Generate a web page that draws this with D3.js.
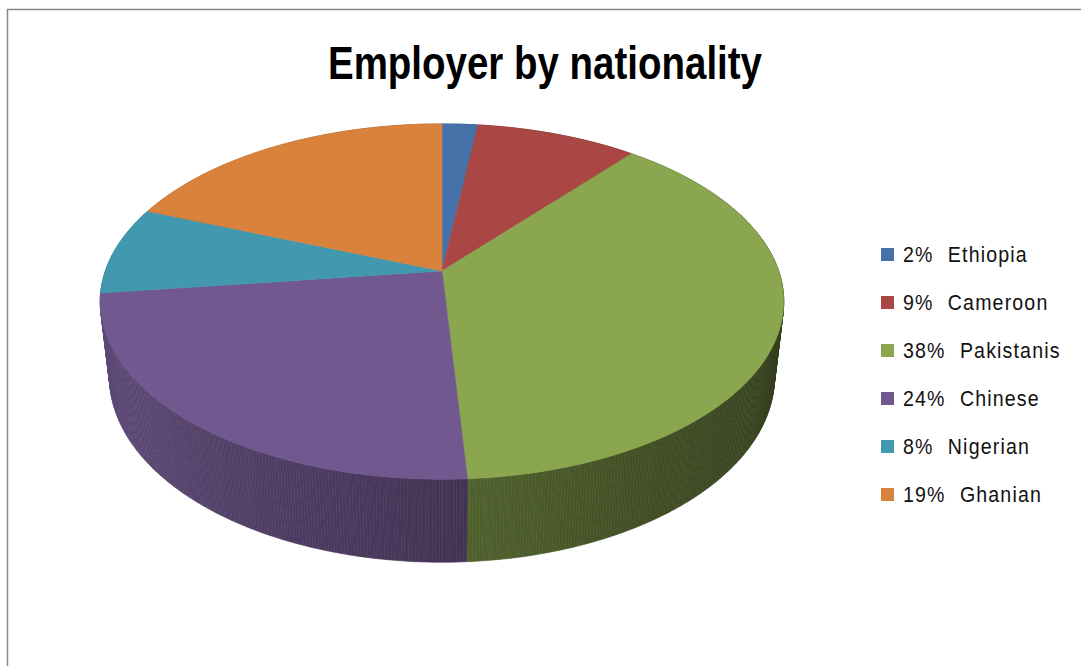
<!DOCTYPE html>
<html>
<head>
<meta charset="utf-8">
<script src="https://cdn.jsdelivr.net/npm/d3@7"></script>
<style>
  html, body { margin: 0; padding: 0; background: #fff; }
  svg { display: block; }
</style>
</head>
<body>
<div id="chart"></div>
<script>
const categories = ['Ethiopia', 'Cameroon', 'Pakistanis', 'Chinese', 'Nigerian', 'Ghanian'];
const shares = [2, 9, 38, 24, 8, 19];
const pctLabels = ['2%', '9%', '38%', '24%', '8%', '19%'];
const palette = ['#4672aa', '#aa4643', '#8aa64e', '#71588f', '#4198af', '#d9823c'];
const title = 'Employer by nationality';

const W = 1081, H = 666;

const svg = d3.select('#chart').append('svg')
    .attr('width', W)
    .attr('height', H);

// chart frame (right/bottom edges fall outside the window)
svg.append('rect')
    .attr('x', 7.5).attr('y', 9.5)
    .attr('width', W + 20).attr('height', H + 20)
    .attr('fill', '#fff')
    .attr('stroke', '#888')
    .attr('stroke-width', 1.5);

// narrow bold title, squeezed to the reference width
svg.append('text')
    .attr('x', 545).attr('y', 79)
    .attr('text-anchor', 'middle')
    .attr('textLength', 434)
    .attr('lengthAdjust', 'spacingAndGlyphs')
    .style('font-family', '"Liberation Sans", Arial, sans-serif')
    .style('font-weight', 'bold')
    .style('font-size', '47px')
    .text(title);

// 3D pie: simple perspective camera looking down at a disk
const view = { cx: 442, cy: 271, k: 1680, dist: 4.99, tilt: 30.8 * Math.PI / 180, depth: 0.265 };
const sinT = Math.sin(view.tilt), cosT = Math.cos(view.tilt);

function project(a, up) {
    const X = Math.sin(a), Z = -Math.cos(a);
    const yc = Z * sinT - up * cosT;
    const zc = Z * cosT + up * sinT;
    const d = view.dist - zc;
    return [view.cx + view.k * X / d, view.cy + view.k * yc / d];
}

const color = d3.scaleOrdinal().domain(categories).range(palette);
const arcs = d3.pie().sort(null).value(d => d.value)(
    categories.map((c, i) => ({ name: c, value: shares[i] }))
);

const line = d3.line();
const step = Math.PI / 360;

// side wall: thin quads, far to near
const quads = [];
arcs.forEach(s => {
    for (let a = s.startAngle; a < s.endAngle - 1e-9; a += step) {
        const b = Math.min(a + step, s.endAngle);
        const mid = (a + b) / 2;
        quads.push({ name: s.data.name, a, b, mid, z: -Math.cos(mid) });
    }
});
quads.sort((p, q) => p.z - q.z);

function shade(name, a) {
    const k = 0.6 - 0.235 * Math.sin(a);
    const c = d3.rgb(color(name));
    return d3.rgb(c.r * k, c.g * k, c.b * k).formatHex();
}

const pie = svg.append('g');

pie.selectAll('path.side')
    .data(quads)
    .join('path')
    .attr('class', 'side')
    .attr('d', q => line([project(q.a, 0), project(q.b, 0), project(q.b, -view.depth), project(q.a, -view.depth)]) + 'Z')
    .attr('fill', q => shade(q.name, q.mid))
    .attr('stroke', q => shade(q.name, q.mid))
    .attr('stroke-width', 0.6);

pie.selectAll('path.top')
    .data(arcs)
    .join('path')
    .attr('class', 'top')
    .attr('d', s => {
        const pts = [[view.cx, view.cy]];
        const n = Math.max(2, Math.ceil((s.endAngle - s.startAngle) / step));
        for (let i = 0; i <= n; i++) {
            pts.push(project(s.startAngle + (s.endAngle - s.startAngle) * i / n, 0));
        }
        return line(pts) + 'Z';
    })
    .attr('fill', s => color(s.data.name))
    .attr('stroke', s => color(s.data.name))
    .attr('stroke-width', 0.6);

// legend
const legend = svg.append('g')
    .style('font-family', '"Liberation Sans", Arial, sans-serif')
    .style('font-size', '22px')
    .style('letter-spacing', '1.3px')
    .attr('fill', '#111');

const item = legend.selectAll('g')
    .data(categories)
    .join('g')
    .attr('transform', (d, i) => `translate(881,${248 + i * 48})`);

item.append('rect')
    .attr('width', 13).attr('height', 13)
    .attr('fill', d => color(d));

const label = item.append('g')
    .attr('transform', 'translate(22,0) scale(0.89,1)')
    .append('text')
    .attr('y', 14);
label.append('tspan').text((d, i) => pctLabels[i]);
label.append('tspan').attr('dx', 16).text(d => d);
</script>
</body>
</html>
